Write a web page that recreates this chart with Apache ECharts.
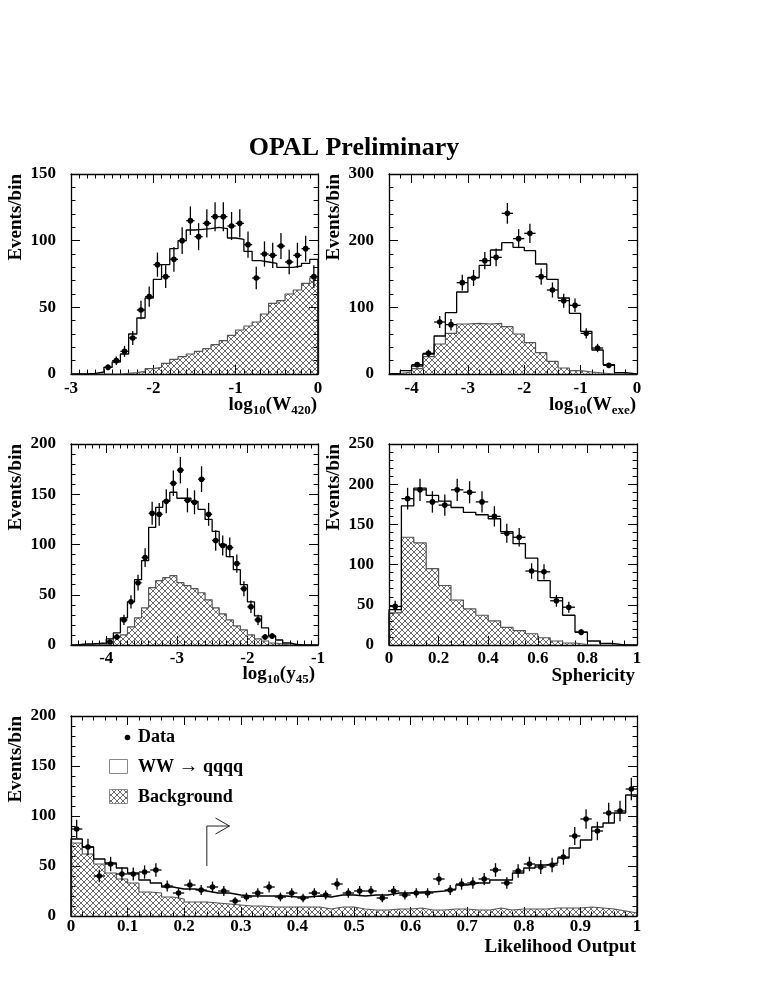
<!DOCTYPE html>
<html>
<head>
<meta charset="utf-8">
<script src="https://cdn.jsdelivr.net/npm/echarts@6/dist/echarts.min.js"></script>
<style>html,body{margin:0;padding:0;background:#fff}#chart{width:763px;height:987px}</style>
</head>
<body>
<div id="chart"></div>
<script>
// ---------------- DATA ----------------
// Panel 1: log10(W420), bins of 0.1 from -3
const w420Lo = -3, w420Bin = 0.1;
const w420Total = [0, 0, 0.5, 1.5, 5, 9, 15, 30, 42, 57, 71, 82, 94, 100, 108, 108.5, 109, 110, 109, 102, 101, 92, 85, 84, 83, 80, 80, 81, 83, 86];
const w420Bkg   = [0, 0, 0, 0, 0, 0, 0.5, 1, 2, 4, 5, 8, 11, 13, 15, 17, 19, 22, 25, 29, 33, 36, 39, 45, 53, 55, 60, 63, 68, 72];
const w420Data  = [null, null, null, null, 5, 10, 17, 27, 48, 58, 82, 73, 86, 100, 115, 103, 113, 118, 118, 111, 113, 97, 72, 90, 89, 96, 84, 89, 94, 73];
const w420XTicks = [-3, -2, -1, 0];
const w420YTicks = [0, 50, 100, 150];

// Panel 2: log10(Wexe), bins of 0.2 from -4.4
const wexeLo = -4.4, wexeBin = 0.2;
const wexeTotal = [1, 5, 12, 30, 57, 92, 123, 145, 163, 186, 197, 190, 185, 165, 142, 114, 91, 64, 36, 14, 2, 0];
const wexeBkg   = [0.5, 3, 8, 26, 45, 61, 75, 76, 75, 76, 71, 60, 47, 32, 19, 9, 5, 3, 1.5, 0, 0, 0];
const wexeData  = [null, null, 14, 31, 78, 74, 137, 144, 170, 175, 241, 203, 211, 146, 126, 110, 103, 61, 39, 13, null, null];
const wexeXTicks = [-4, -3, -2, -1, 0];
const wexeYTicks = [0, 100, 200, 300];

// Panel 3: log10(y45), bins of 0.1 from -4.5
const y45Lo = -4.5, y45Bin = 0.1;
const y45Total = [0, 1, 1, 1.5, 2, 6, 12, 27, 43, 65, 84, 117, 137, 143, 152, 146, 146, 143, 135, 125, 113, 100, 88, 75, 60, 43, 29, 17, 9, 5, 2, 0.5, 0, 0, 0];
const y45Bkg   = [0, 0, 0, 0, 0.5, 2, 8, 10, 18, 27, 37, 57, 64, 67, 69, 62, 59, 56, 52, 45, 37, 31, 25, 19, 15, 10, 6, 4, 2, 1, 0, 0, 0, 0, 0];
const y45Data  = [null, null, null, null, null, 3, 8, 25, 43, 62, 87, 131, 130, 143, 161, 174, 144, 142, 165, 130, 104, 99, 97, 81, 56, 38, 25, 8, 9, null, null, null, null, null, null];
const y45XTicks = [-4, -3, -2, -1];
const y45YTicks = [0, 50, 100, 150, 200];

// Panel 4: Sphericity, bins of 0.05 from 0
const sphLo = 0, sphBin = 0.05;
const sphTotal = [44, 173, 195, 186, 179, 171, 165, 162, 157, 141, 126, 108, 80, 59, 37, 16, 5, 2, 0, 0];
const sphBkg   = [40, 134, 127, 95, 74, 56, 45, 37, 30, 22, 18, 14, 9, 5, 2.5, 0.5, 0, 0, 0, 0];
const sphData  = [48, 182, 193, 178, 174, 193, 190, 178, 160, 139, 134, 92, 91, 55, 47, 16, null, null, null, null];
const sphXTicks = [0, 0.2, 0.4, 0.6, 0.8, 1];
const sphYTicks = [0, 50, 100, 150, 200, 250];

// Panel 5: Likelihood Output, bins of 0.02 from 0
const likLo = 0, likBin = 0.02;
const likTotal = [77, 69, 57, 53, 48, 43, 36, 33, 29, 27, 27, 25, 23, 23, 21, 20, 20, 20, 20, 19, 19, 20, 19, 21, 21,
                  20, 21, 21, 23, 23, 24, 24, 25, 27, 31, 33, 33, 36, 36, 43, 48, 51, 53, 58, 68, 76, 89, 93, 103, 121];
const likBkg   = [73, 62, 52, 43, 37, 33, 24, 23, 19, 17, 14, 14, 13, 12, 11, 10, 10, 9, 9, 9, 9, 9, 7, 9, 9,
                  7, 6, 6, 7, 7, 8, 6, 6, 7, 7, 6, 6, 8, 6, 7, 7, 7, 8, 8, 8, 9, 8, 7, 5, 3];
const likData  = [87, 69, 40, 52, 42, 42, 44, 46, 30, 23, 31, 26, 29, 25, 15, 19, 23, 29, 19, 23, 18, 23, 21, 32, 23,
                  25, 25, 18, 25, 21, 23, 23, 37, 26, 32, 33, 37, 46, 33, 45, 52, 49, 51, 59, 80, 97, 85, 103, 105, 127];
const likXTicks = [0, 0.1, 0.2, 0.3, 0.4, 0.5, 0.6, 0.7, 0.8, 0.9, 1];
const likYTicks = [0, 50, 100, 150, 200];
const likCut = 0.24, likArrowY = [50, 90], likArrowLen = 0.04;

// ---------------- STYLE / LAYOUT ----------------
const FONT = '"Liberation Serif","Times New Roman",serif';

function makeHatch() {
  const c = document.createElement('canvas');
  c.width = 6; c.height = 6;
  const g = c.getContext('2d');
  g.strokeStyle = '#3a3a3a';
  g.lineWidth = 0.75;
  g.beginPath();
  g.moveTo(0, 0); g.lineTo(6, 6);
  g.moveTo(6, 0); g.lineTo(0, 6);
  g.stroke();
  return c;
}
const hatchCanvas = makeHatch();
const hatch = { image: hatchCanvas, repeat: 'repeat' };

const panels = [
  { lo: w420Lo, bin: w420Bin, total: w420Total, bkg: w420Bkg, data: w420Data, xt: w420XTicks, yt: w420YTicks,
    xr: [-3, 0], yr: [0, 150], xm: 0.1, ym: 10, grid: { left: 71, top: 174, width: 247, height: 200 }, xMargin: 6 },
  { lo: wexeLo, bin: wexeBin, total: wexeTotal, bkg: wexeBkg, data: wexeData, xt: wexeXTicks, yt: wexeYTicks,
    xr: [-4.4, 0], yr: [0, 300], xm: 0.2, ym: 20, grid: { left: 389, top: 174, width: 248, height: 200 }, xMargin: 6 },
  { lo: y45Lo, bin: y45Bin, total: y45Total, bkg: y45Bkg, data: y45Data, xt: y45XTicks, yt: y45YTicks,
    xr: [-4.5, -1], yr: [0, 200], xm: 0.1, ym: 10, grid: { left: 71, top: 444, width: 247, height: 201 }, xMargin: 5 },
  { lo: sphLo, bin: sphBin, total: sphTotal, bkg: sphBkg, data: sphData, xt: sphXTicks, yt: sphYTicks,
    xr: [0, 1], yr: [0, 250], xm: 0.05, ym: 10, grid: { left: 389, top: 444, width: 248, height: 201 }, xMargin: 5 },
  { lo: likLo, bin: likBin, total: likTotal, bkg: likBkg, data: likData, xt: likXTicks, yt: likYTicks,
    xr: [0, 1], yr: [0, 200], xm: 0.02, ym: 10, grid: { left: 71, top: 716, width: 566, height: 200 }, xMargin: 2 }
];

function minorVals(min, max, step, majors) {
  const out = [];
  const n = Math.round((max - min) / step);
  for (let i = 0; i <= n; i++) {
    const v = Math.round((min + i * step) * 1e6) / 1e6;
    if (!majors.some(m => Math.abs(m - v) < 1e-9)) out.push(v);
  }
  return out;
}

function steps(lo, w, vals) {
  const pts = [[lo, 0]];
  vals.forEach((v, i) => {
    pts.push([lo + i * w, v]);
    pts.push([lo + (i + 1) * w, v]);
  });
  pts.push([lo + vals.length * w, 0]);
  return pts;
}

const grids = [], xAxes = [], yAxes = [], series = [];
const lineCol = '#000';
const labelStyle = { fontFamily: FONT, fontWeight: 'bold', fontSize: 17, color: '#000' };

panels.forEach((p, gi) => {
  grids.push(Object.assign({ show: false, containLabel: false, outerBoundsMode: 'none' }, p.grid));
  const xMin = minorVals(p.xr[0], p.xr[1], p.xm, p.xt);
  const yMin = minorVals(p.yr[0], p.yr[1], p.ym, p.yt);
  const base = (pos, ticks, len, showLine, showLabel, margin) => ({
    type: 'value', gridIndex: gi, position: pos,
    axisLine: { show: showLine, onZero: false, lineStyle: { color: lineCol, width: 1.3 } },
    axisTick: { show: true, inside: true, length: len, customValues: ticks, lineStyle: { color: lineCol, width: 1 } },
    axisLabel: showLabel ? Object.assign({ show: true, customValues: ticks, margin: margin }, labelStyle) : { show: false },
    splitLine: { show: false }, minorTick: { show: false }, minorSplitLine: { show: false }
  });
  const xi = xAxes.length;
  [['bottom', p.xt, 9, true, true], ['bottom', xMin, 4.5, false, false],
   ['top', p.xt, 9, true, false], ['top', xMin, 4.5, false, false]].forEach(a => {
    xAxes.push(Object.assign(base(a[0], a[1], a[2], a[3], a[4], p.xMargin), { min: p.xr[0], max: p.xr[1] }));
  });
  const yi = yAxes.length;
  [['left', p.yt, 9, true, true], ['left', yMin, 4.5, false, false],
   ['right', p.yt, 9, true, false], ['right', yMin, 4.5, false, false]].forEach(a => {
    yAxes.push(Object.assign(base(a[0], a[1], a[2], a[3], a[4], 15), { min: p.yr[0], max: p.yr[1] }));
  });

  series.push({
    type: 'line', xAxisIndex: xi, yAxisIndex: yi, data: steps(p.lo, p.bin, p.bkg),
    symbol: 'none', showSymbol: false, silent: true, z: 2,
    lineStyle: { color: '#555', width: 1.2 },
    areaStyle: { color: hatch, opacity: 1 }
  });
  series.push({
    type: 'line', xAxisIndex: xi, yAxisIndex: yi, data: steps(p.lo, p.bin, p.total),
    symbol: 'none', showSymbol: false, silent: true, z: 3,
    lineStyle: { color: '#000', width: 1.3 }
  });
  const pts = [];
  p.data.forEach((v, i) => { if (v !== null) pts.push([p.lo + (i + 0.5) * p.bin, v, Math.sqrt(v), p.bin / 2]); });
  series.push({
    type: 'custom', xAxisIndex: xi, yAxisIndex: yi, data: pts, z: 5, silent: true,
    encode: { x: 0, y: 1 },
    renderItem: function (params, api) {
      const x = api.value(0), y = api.value(1), e = api.value(2), hw = api.value(3);
      const c = api.coord([x, y]);
      const t = api.coord([x, y + e]);
      const b = api.coord([x, Math.max(0, y - e)]);
      const l = api.coord([x - hw, y]);
      const r = api.coord([x + hw, y]);
      const st = { stroke: '#000', lineWidth: 1.3 };
      return {
        type: 'group', children: [
          { type: 'line', shape: { x1: c[0], y1: t[1], x2: c[0], y2: b[1] }, style: st },
          { type: 'line', shape: { x1: l[0], y1: c[1], x2: r[0], y2: c[1] }, style: st },
          { type: 'circle', shape: { cx: c[0], cy: c[1], r: 2.8 }, style: { fill: '#000' } }
        ]
      };
    }
  });
});

// cut arrow on the likelihood panel
series.push({
  type: 'custom', xAxisIndex: 16, yAxisIndex: 16, z: 6, silent: true,
  data: [[likCut, likArrowY[0], likArrowY[1], likCut + likArrowLen]],
  encode: { x: 0, y: 1 },
  renderItem: function (params, api) {
    const p0 = api.coord([api.value(0), api.value(1)]);
    const p1 = api.coord([api.value(0), api.value(2)]);
    const p2 = api.coord([api.value(3), api.value(2)]);
    const st = { stroke: '#222', lineWidth: 1, fill: null };
    return {
      type: 'group', children: [
        { type: 'polyline', shape: { points: [p0, p1, p2] }, style: st },
        { type: 'polyline', shape: { points: [[p2[0] - 14, p2[1] - 8], p2, [p2[0] - 14, p2[1] + 8]] }, style: st }
      ]
    };
  }
});

const boldText = (size) => 'bold ' + size + 'px ' + FONT;
const richTitle = {
  n: { fontFamily: FONT, fontWeight: 'bold', fontSize: 19, lineHeight: 19, fill: '#000' },
  s: { fontFamily: FONT, fontWeight: 'bold', fontSize: 13, lineHeight: 13, padding: [12, 0, 0, 0], fill: '#000' }
};
const richLegend = {
  n: { fontFamily: FONT, fontWeight: 'bold', fontSize: 18, fill: '#000' },
  a: { fontFamily: FONT, fontWeight: 'normal', fontSize: 20, fill: '#000' }
};
const graphics = [
  { type: 'text', x: 354, y: 148, style: { text: 'OPAL Preliminary', font: boldText(26), fill: '#000', textAlign: 'center', textVerticalAlign: 'middle' } }
];
[[16, 174], [334, 174], [16, 444], [334, 444], [16, 716]].forEach(pt => {
  graphics.push({ type: 'text', x: pt[0], y: pt[1], rotation: Math.PI / 2,
    style: { text: 'Events/bin', font: boldText(19), fill: '#000', textAlign: 'right', textVerticalAlign: 'middle' } });
});
graphics.push({ type: 'text', x: 317, y: 405, style: { text: '{n|log}{s|10}{n|(W}{s|420}{n|)}', rich: richTitle, textAlign: 'right', textVerticalAlign: 'middle' } });
graphics.push({ type: 'text', x: 636, y: 405, style: { text: '{n|log}{s|10}{n|(W}{s|exe}{n|)}', rich: richTitle, textAlign: 'right', textVerticalAlign: 'middle' } });
graphics.push({ type: 'text', x: 315, y: 674, style: { text: '{n|log}{s|10}{n|(y}{s|45}{n|)}', rich: richTitle, textAlign: 'right', textVerticalAlign: 'middle' } });
graphics.push({ type: 'text', x: 635, y: 676, style: { text: 'Sphericity', font: boldText(19), fill: '#000', textAlign: 'right', textVerticalAlign: 'middle' } });
graphics.push({ type: 'text', x: 636, y: 947, style: { text: 'Likelihood Output', font: boldText(19), fill: '#000', textAlign: 'right', textVerticalAlign: 'middle' } });
// legend
graphics.push({ type: 'circle', shape: { cx: 127.5, cy: 737.5, r: 2.8 }, style: { fill: '#000' } });
graphics.push({ type: 'text', x: 138, y: 737, style: { text: 'Data', font: boldText(18), fill: '#000', textVerticalAlign: 'middle' } });
graphics.push({ type: 'rect', shape: { x: 109.5, y: 759.5, width: 18, height: 14 }, style: { fill: '#fff', stroke: '#888', lineWidth: 1 } });
graphics.push({ type: 'text', x: 138, y: 767, style: { text: '{n|WW }{a|\u2192}{n| qqqq}', rich: richLegend, textVerticalAlign: 'middle' } });
graphics.push({ type: 'rect', shape: { x: 109.5, y: 789.5, width: 18, height: 14 }, style: { fill: hatch, stroke: '#888', lineWidth: 1 } });
graphics.push({ type: 'text', x: 138, y: 797, style: { text: 'Background', font: boldText(18), fill: '#000', textVerticalAlign: 'middle' } });

const chart = echarts.init(document.getElementById('chart'), null, { renderer: 'canvas' });
chart.setOption({
  animation: false,
  backgroundColor: '#fff',
  grid: grids,
  xAxis: xAxes,
  yAxis: yAxes,
  series: series,
  graphic: graphics
});
</script>
</body>
</html>
